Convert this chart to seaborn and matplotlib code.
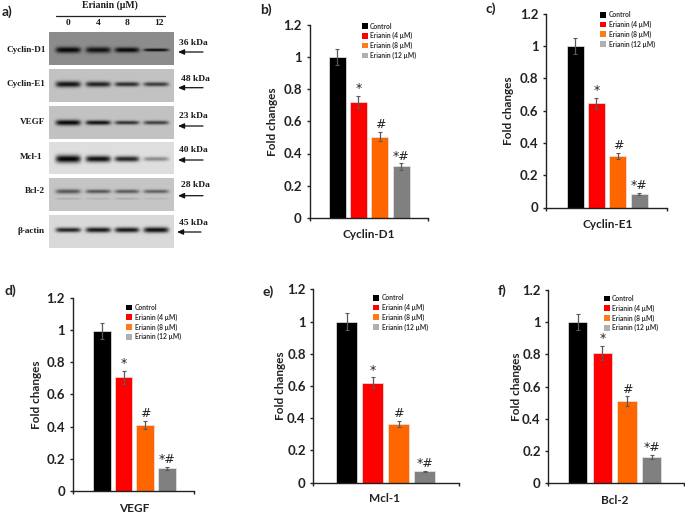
import numpy as np
import pandas as pd
import seaborn as sns
import matplotlib
matplotlib.use("Agg")
import matplotlib.pyplot as plt
from matplotlib.patches import Patch

sns.set_theme(style="white")
plt.rcParams['font.family'] = ['Lato', 'DejaVu Sans']

W, H = 685, 513

# ---------- data ----------
conditions = ["Control", "Erianin (4 µM)", "Erianin (8 µM)", "Erianin (12 µM)"]
bar_colors = ["#000000", "#ff0000", "#ff6600", "#808080"]
legend_colors = ["#000000", "#ff0000", "#ff7a1a", "#b0b0b0"]
marks = ["", "*", "#", "*#"]
yticks = [0, 0.2, 0.4, 0.6, 0.8, 1, 1.2]
yticklabels = ["0", "0.2", "0.4", "0.6", "0.8", "1", "1.2"]

cyclin_d1 = [1.00, 0.72, 0.505, 0.32]
cyclin_d1_err = [0.05, 0.037, 0.03, 0.02]
cyclin_e1 = [1.00, 0.645, 0.32, 0.085]
cyclin_e1_err = [0.05, 0.035, 0.02, 0.005]
vegf = [0.995, 0.705, 0.41, 0.14]
vegf_err = [0.05, 0.04, 0.025, 0.01]
mcl1 = [1.00, 0.62, 0.365, 0.07]
mcl1_err = [0.05, 0.035, 0.02, 0.005]
bcl2 = [1.00, 0.81, 0.51, 0.165]
bcl2_err = [0.05, 0.045, 0.03, 0.012]

doses = ["0", "4", "8", "12"]
blot_names = ["Cyclin-D1", "Cyclin-E1", "VEGF", "Mcl-1", "Bcl-2", "β-actin"]
blot_kda = ["36 kDa", "48 kDa", "23 kDa", "40 kDa", "28 kDa", "45 kDa"]
blot_bg = [0.55, 0.76, 0.76, 0.87, 0.77, 0.85]
blot_strength = [
    [0.52, 0.48, 0.52, 0.50],
    [0.68, 0.62, 0.58, 0.52],
    [0.72, 0.68, 0.55, 0.50],
    [0.85, 0.80, 0.72, 0.32],
    [0.42, 0.42, 0.40, 0.38],
    [0.70, 0.75, 0.75, 0.78],
]
blot_thick = [
    [3.0, 3.0, 2.6, 1.5],
    [3.0, 2.7, 2.3, 2.2],
    [2.8, 2.3, 2.0, 2.0],
    [3.8, 3.2, 2.8, 2.2],
    [2.3, 2.0, 2.0, 1.9],
    [2.4, 2.6, 2.6, 2.8],
]
faint_strength = [0.09, 0.07, 0.10, 0.05]

# ---------- layout (pixels in the figure) ----------
fig = plt.figure(figsize=(W / 100, H / 100), dpi=100, facecolor="white")


def fx(x):
    return x / W


def fy(y):
    return 1 - y / H


def add_axes_px(l, t, r, b):
    return fig.add_axes([fx(l), fy(b), (r - l) / W, (b - t) / H])


def ftext(x, y, s, **kw):
    kw.setdefault("ha", "left")
    kw.setdefault("va", "center")
    fig.text(fx(x), fy(y), s, **kw)


panels = [
    dict(letter="b)", lx=266, ly=10, title="Cyclin-D1", vals=cyclin_d1, errs=cyclin_d1_err,
         L=309.5, R=428, top=24.5, bot=218, c0=337, step=21.4, w=17,
         lgx=362.7, lgy=25.7, ylx=273, yly=122, xlx=369, xly=234),
    dict(letter="c)", lx=491, ly=9, title="Cyclin-E1", vals=cyclin_e1, errs=cyclin_e1_err,
         L=546, R=667, top=14, bot=207.5, c0=575, step=21.4, w=17,
         lgx=601, lgy=14.3, ylx=509, yly=111, xlx=607.5, xly=224),
    dict(letter="d)", lx=10, ly=291, title="VEGF", vals=vegf, errs=vegf_err,
         L=72.7, R=194, top=297.7, bot=491, c0=102, step=21.6, w=17.5,
         lgx=127, lgy=307, ylx=36, yly=395, xlx=134, xly=508),
    dict(letter="e)", lx=268, ly=292, title="Mcl-1", vals=mcl1, errs=mcl1_err,
         L=313.3, R=458.7, top=289.3, bot=482.7, c0=346.7, step=26, w=20.7,
         lgx=374, lgy=297.3, ylx=280, yly=386, xlx=385, xly=499),
    dict(letter="f)", lx=502, ly=291, title="Bcl-2", vals=bcl2, errs=bcl2_err,
         L=548.3, R=684, top=290, bot=483.3, c0=577.7, step=24.7, w=19.3,
         lgx=604.7, lgy=298, ylx=517, yly=387, xlx=615, xly=500),
]

TXT = "#222222"
for p in panels:
    ax = add_axes_px(p["L"], p["top"], p["R"], p["bot"])
    df = pd.DataFrame({"condition": conditions, "value": p["vals"]})
    sns.barplot(data=df, x="condition", y="value", hue="condition", palette=bar_colors,
                order=conditions, hue_order=conditions, dodge=False, legend=False,
                saturation=1, width=p["w"] / p["step"], edgecolor="#e8e8e8",
                linewidth=0.5, ax=ax)
    xpos = np.arange(len(conditions))
    ax.errorbar(xpos, p["vals"], yerr=p["errs"], fmt="none", ecolor="#5a5a5a",
                elinewidth=0.9, capsize=1.7, capthick=0.8, zorder=5)
    for i, m in enumerate(marks):
        if m:
            ax.annotate(m, (xpos[i], p["vals"][i] + p["errs"][i]), xytext=(0, 6.2),
                        textcoords="offset points", ha="center", va="center_baseline",
                        fontsize=9, color="#222222", family=["DejaVu Sans"])
    x0 = (p["L"] - p["c0"]) / p["step"]
    x1 = (p["R"] - p["c0"]) / p["step"]
    ax.set_xlim(x0, x1)
    ax.set_ylim(0, 1.2)
    ax.set_yticks(yticks)
    ax.set_yticklabels(yticklabels, fontsize=9.5, fontweight="bold", color=TXT)
    ax.set_xticks([x0, x1])
    ax.set_xticklabels(["", ""])
    ax.tick_params(axis="both", direction="out", length=2.5, width=1, color="#222222",
                   left=True, bottom=True, pad=3)
    for s in ("top", "right"):
        ax.spines[s].set_visible(False)
    for s in ("left", "bottom"):
        ax.spines[s].set_color("#222222")
        ax.spines[s].set_linewidth(1.0)
    ax.set_ylabel("")
    ax.set_xlabel("")
    ftext(p["ylx"], p["yly"], "Fold changes", rotation=90, ha="center", fontsize=8.5,
          fontweight="bold", color=TXT)
    ftext(p["xlx"], p["xly"], p["title"], ha="center", fontsize=8.5,
          fontweight="bold", color=TXT)
    ftext(p["lx"], p["ly"], p["letter"], ha="center", fontsize=10, fontweight="bold", color=TXT)
    handles = [Patch(facecolor=c, edgecolor="none", label=l)
               for c, l in zip(legend_colors, conditions)]
    leg = fig.legend(handles=handles, loc="upper left",
                     bbox_to_anchor=(fx(p["lgx"] - 2), fy(p["lgy"] - 4.5)),
                     bbox_transform=fig.transFigure, frameon=False,
                     labelspacing=0.38, handlelength=0.8, handleheight=0.9,
                     handletextpad=0.4, borderpad=0.2, borderaxespad=0,
                     prop=dict(size=4.9, weight="bold"))
    for t in leg.get_texts():
        t.set_color("#333333")

# ---------- panel a: western blots ----------
blot_tops = [32.3, 69.3, 106.3, 142.3, 178, 215.3]
blot_bots = [65, 101.7, 139, 173.7, 210.7, 247.7]
band_ys = [50, 84.3, 122.7, 159, 191.7, 230]
lanes_px = [68.3, 98.3, 127.3, 156.7]
kda_y = [43, 79, 116, 150, 185, 223]
kda_x = [179, 181, 179, 179, 181, 179]
arrow_y = [52, 87.7, 126, 160, 195.7, 232]
name_y = [50, 84, 122, 157, 191, 231]
name_r = [46, 45, 45, 43, 45, 45]
BL, BR = 49.3, 174.3
serif = ["Liberation Serif", "DejaVu Serif"]

for k in range(6):
    t, b = blot_tops[k], blot_bots[k]
    ax = add_axes_px(BL, t, BR, b)
    xx = np.arange(BL, BR, 0.5) + 0.25
    yy = np.arange(t, b, 0.5) + 0.25
    X, Y = np.meshgrid(xx, yy)
    img = np.full_like(X, blot_bg[k])
    for j, lane in enumerate(lanes_px):
        prof = np.exp(-((X - lane) / 12.5) ** 6)
        img = img - blot_strength[k][j] * prof * np.exp(-((Y - band_ys[k]) / blot_thick[k][j]) ** 2)
        if k == 4:
            img = img - faint_strength[j] * prof * np.exp(-((Y - 199) / 1.0) ** 2)
    sns.heatmap(np.clip(img, 0, 1), ax=ax, cmap="gray", vmin=0, vmax=1, cbar=False,
                xticklabels=False, yticklabels=False, rasterized=True)
    ax.set_xlabel("")
    ax.set_ylabel("")
    ftext(name_r[k], name_y[k], blot_names[k], ha="right", fontsize=6.6, fontweight="bold",
          family=serif, color="#1a1a1a")
    ftext(kda_x[k], kda_y[k], blot_kda[k], fontsize=6.8, fontweight="bold", family=serif,
          color="#1a1a1a")

ov = fig.add_axes([0, 0, 1, 1], zorder=10)
ov.set_xlim(0, W)
ov.set_ylim(H, 0)
ov.axis("off")
ov.patch.set_alpha(0)
for k in range(6):
    a, c = (203, 178) if k < 5 else (201, 177)
    ov.annotate("", xy=(c, arrow_y[k]), xytext=(a, arrow_y[k]),
                arrowprops=dict(arrowstyle="-|>,head_width=0.13,head_length=0.3", lw=0.9,
                                color="#111111", shrinkA=0, shrinkB=0))
ov.plot([56, 165], [16.3, 16.3], color="#222222", lw=0.9)

ftext(110, 5, "Erianin (µM)", ha="center", fontsize=7, fontweight="bold", family=serif, color="#1a1a1a")
for d, x in zip(doses, [68, 98, 127, 159]):
    ftext(x, 23, d, ha="center", fontsize=6.8, fontweight="bold", family=serif, color="#1a1a1a")
ftext(7, 12, "a)", ha="center", fontsize=10, fontweight="bold", color=TXT)

fig.savefig("out.png", dpi=100, facecolor="white")
